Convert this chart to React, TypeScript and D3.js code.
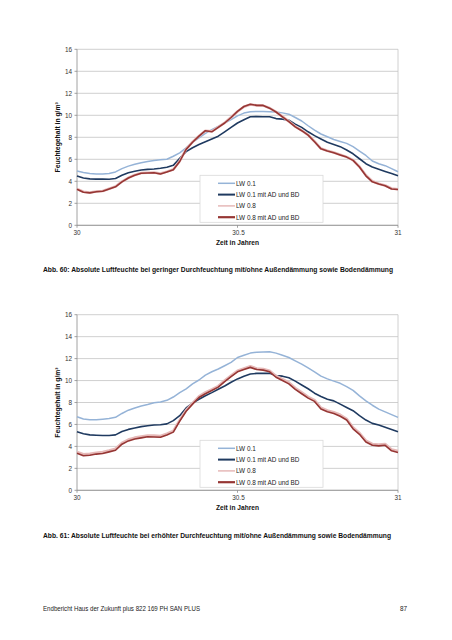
import React from "react";
import * as d3 from "d3";

const TIME = d3.range(0, 51).map((i) => +(30 + i * 0.02).toFixed(2));

// Chart 1 (Abb. 60)
const C1_LW01 = [4.93,4.8,4.7,4.66,4.67,4.7,4.85,5.15,5.38,5.55,5.69,5.8,5.9,5.95,6.0,6.28,6.58,7.05,7.55,7.95,8.35,8.7,9.0,9.3,9.6,9.95,10.2,10.33,10.35,10.35,10.33,10.3,10.22,10.1,9.8,9.48,9.05,8.65,8.3,8.05,7.8,7.62,7.45,7.15,6.75,6.35,5.85,5.6,5.42,5.15,4.87];
const C1_LW01AD = [4.48,4.3,4.22,4.2,4.2,4.18,4.25,4.55,4.78,4.92,5.03,5.08,5.12,5.18,5.27,5.45,6.1,6.7,7.05,7.35,7.6,7.85,8.1,8.5,8.9,9.3,9.6,9.87,9.88,9.87,9.87,9.7,9.65,9.55,9.2,8.9,8.5,8.15,7.85,7.55,7.35,7.15,6.85,6.5,6.05,5.6,5.3,5.1,4.9,4.7,4.51];
const C1_LW08 = [3.3,3.05,2.98,3.08,3.12,3.32,3.52,3.98,4.32,4.58,4.75,4.78,4.8,4.7,4.88,5.08,5.85,6.92,7.58,8.12,8.6,8.55,8.92,9.32,9.82,10.35,10.78,10.98,10.9,10.88,10.66,10.32,9.88,9.45,8.98,8.62,8.22,7.62,6.98,6.78,6.62,6.42,6.22,5.92,5.32,4.55,4.0,3.78,3.62,3.35,3.28];
const C1_LW08AD = [3.27,3.0,2.95,3.05,3.1,3.3,3.5,3.95,4.3,4.55,4.73,4.75,4.78,4.66,4.85,5.05,5.8,6.9,7.55,8.1,8.6,8.5,8.9,9.3,9.8,10.35,10.8,11.0,10.9,10.9,10.65,10.3,9.85,9.42,8.95,8.6,8.2,7.6,6.95,6.75,6.6,6.4,6.2,5.9,5.3,4.5,3.95,3.75,3.6,3.3,3.25];

// Chart 2 (Abb. 61)
const C2_LW01 = [6.7,6.5,6.42,6.42,6.48,6.55,6.65,7.0,7.3,7.5,7.68,7.82,7.98,8.05,8.2,8.5,8.9,9.25,9.7,10.05,10.5,10.8,11.05,11.35,11.65,12.1,12.3,12.5,12.58,12.6,12.63,12.5,12.3,12.1,11.8,11.5,11.15,10.8,10.4,10.15,9.95,9.75,9.45,9.1,8.6,8.15,7.75,7.4,7.15,6.9,6.65];
const C2_LW01AD = [5.34,5.15,5.05,5.02,5.0,5.0,5.05,5.35,5.55,5.68,5.8,5.88,5.95,5.97,6.05,6.35,6.8,7.5,7.95,8.3,8.62,8.9,9.2,9.5,9.85,10.15,10.4,10.6,10.65,10.65,10.66,10.45,10.4,10.25,9.95,9.6,9.25,8.85,8.55,8.3,8.15,7.85,7.55,7.25,6.8,6.4,6.1,5.95,5.75,5.55,5.34];
const C2_LW08 = [3.5,3.28,3.32,3.42,3.48,3.62,3.78,4.32,4.62,4.8,4.9,5.0,4.98,4.95,5.16,5.42,6.4,7.3,7.95,8.55,8.92,9.2,9.5,10.0,10.45,10.9,11.1,11.3,11.1,11.05,10.9,10.42,10.12,9.82,9.32,8.92,8.52,8.22,7.52,7.28,7.12,6.88,6.52,5.72,5.22,4.52,4.22,4.18,4.22,3.72,3.58];
const C2_LW08AD = [3.37,3.15,3.2,3.3,3.35,3.5,3.65,4.2,4.5,4.67,4.78,4.88,4.85,4.83,5.04,5.3,6.3,7.2,7.85,8.45,8.8,9.1,9.4,9.9,10.35,10.8,11.0,11.2,11.0,10.95,10.8,10.3,10.0,9.7,9.2,8.8,8.4,8.1,7.4,7.15,7.0,6.75,6.4,5.6,5.1,4.4,4.1,4.05,4.1,3.6,3.45];

const SERIES_NAMES = ["LW 0.1", "LW 0.1 mit AD und BD", "LW 0.8", "LW 0.8 mit AD und BD"];
const SERIES_COLORS = ["#95b3d7", "#1f3a60", "#e6b9b8", "#963634"];
const SERIES_WIDTHS = [1.5, 1.6, 2.6, 1.6];
const LEGEND_WIDTHS = [1.5, 2, 1.5, 2.2];

const Y_TICKS = [0, 2, 4, 6, 8, 10, 12, 14, 16];
const X_TICKS = [30, 30.5, 31];
const X_LABELS = ["30", "30.5", "31"];

const Y_TITLE = "Feuchtegehalt in g/m³";
const X_TITLE = "Zeit in Jahren";
const CAPTION1 = "Abb. 60: Absolute Luftfeuchte bei geringer Durchfeuchtung mit/ohne Außendämmung sowie Bodendämmung";
const CAPTION2 = "Abb. 61: Absolute Luftfeuchte bei erhöhter Durchfeuchtung mit/ohne Außendämmung sowie Bodendämmung";
const FOOTER = "Endbericht Haus der Zukunft plus 822 169 PH SAN PLUS";
const PAGE = "87";

const FONT = "'Liberation Sans', Arial, sans-serif";

function Chart({ top, bottom, series }: { top: number; bottom: number; series: number[][] }) {
  const left = 77;
  const right = 398;
  const x = d3.scaleLinear().domain([30, 31]).range([left, right]);
  const y = d3.scaleLinear().domain([0, 16]).range([bottom, top]);
  const line = d3
    .line<number>()
    .x((_, i) => x(TIME[i]))
    .y((d) => y(d))
    .curve(d3.curveLinear);
  const lgX = 200;
  const lgW = 123;
  const lgTop = bottom - 50;
  const lgH = 47;
  return (
    <g>
      {Y_TICKS.map((t) => (
        <line key={"g" + t} x1={left} x2={right} y1={y(t)} y2={y(t)} stroke="#c4c4c4" strokeWidth={0.8} />
      ))}
      <line x1={right} x2={right} y1={top} y2={bottom} stroke="#c4c4c4" strokeWidth={0.8} />
      <line x1={left} x2={left} y1={top} y2={bottom} stroke="#8c8c8c" strokeWidth={0.8} />
      <line x1={left} x2={right} y1={bottom} y2={bottom} stroke="#8c8c8c" strokeWidth={0.8} />
      {Y_TICKS.map((t) => (
        <g key={"yt" + t}>
          <line x1={left - 2.5} x2={left} y1={y(t)} y2={y(t)} stroke="#8c8c8c" strokeWidth={0.8} />
          <text x={left - 5} y={y(t) + 2.3} fontSize={6.4} textAnchor="end" fill="#333" fontFamily={FONT}>
            {t}
          </text>
        </g>
      ))}
      {X_TICKS.map((t, i) => (
        <g key={"xt" + t}>
          <line x1={x(t)} x2={x(t)} y1={bottom} y2={bottom + 2.5} stroke="#8c8c8c" strokeWidth={0.8} />
          <text x={x(t) + (i === 1 ? 1 : 0)} y={bottom + 10} fontSize={6.4} textAnchor="middle" fill="#333" fontFamily={FONT}>
            {X_LABELS[i]}
          </text>
        </g>
      ))}
      <text x={(left + right) / 2} y={bottom + 20} fontSize={6.6} fontWeight="bold" textAnchor="middle" fill="#111" fontFamily={FONT}>
        {X_TITLE}
      </text>
      <text
        transform={`translate(${left - 17},${(top + bottom) / 2}) rotate(-90)`}
        fontSize={6.8}
        fontWeight="bold"
        textAnchor="middle"
        fill="#111"
        fontFamily={FONT}
      >
        {Y_TITLE}
      </text>
      {series.map((s, i) => (
        <path
          key={"s" + i}
          d={line(s) || ""}
          fill="none"
          stroke={SERIES_COLORS[i]}
          strokeWidth={SERIES_WIDTHS[i]}
          strokeLinejoin="round"
        />
      ))}
      <rect x={lgX} y={lgTop} width={lgW} height={lgH} fill="#fff" stroke="#d9d9d9" strokeWidth={0.8} />
      {SERIES_NAMES.map((n, i) => {
        const ly = lgTop + 8 + i * 11.3;
        return (
          <g key={"lg" + i}>
            <line x1={218} x2={235} y1={ly} y2={ly} stroke={SERIES_COLORS[i]} strokeWidth={LEGEND_WIDTHS[i]} />
            <text x={236} y={ly + 2.3} fontSize={6.4} fill="#222" fontFamily={FONT}>
              {n}
            </text>
          </g>
        );
      })}
    </g>
  );
}

export default function App() {
  return (
    <svg
      width={452}
      height={640}
      viewBox="0 0 452 640"
      style={{ position: "absolute", left: 0, top: 0, background: "#fff" }}
    >
      <rect x={0} y={0} width={452} height={640} fill="#fff" />
      <Chart top={49.3} bottom={225.3} series={[C1_LW01, C1_LW01AD, C1_LW08, C1_LW08AD]} />
      <text x={43} y={272} fontSize={6.6} fontWeight="bold" fill="#111" fontFamily={FONT} textLength={350} lengthAdjust="spacingAndGlyphs">
        {CAPTION1}
      </text>
      <Chart top={314.7} bottom={490.3} series={[C2_LW01, C2_LW01AD, C2_LW08, C2_LW08AD]} />
      <text x={43} y={537.5} fontSize={6.6} fontWeight="bold" fill="#111" fontFamily={FONT} textLength={348} lengthAdjust="spacingAndGlyphs">
        {CAPTION2}
      </text>
      <text x={43} y={610.5} fontSize={6.4} fill="#222" fontFamily={FONT} textLength={157} lengthAdjust="spacingAndGlyphs">
        {FOOTER}
      </text>
      <text x={407} y={610.5} fontSize={6.4} fill="#222" textAnchor="end" fontFamily={FONT}>
        {PAGE}
      </text>
    </svg>
  );
}
